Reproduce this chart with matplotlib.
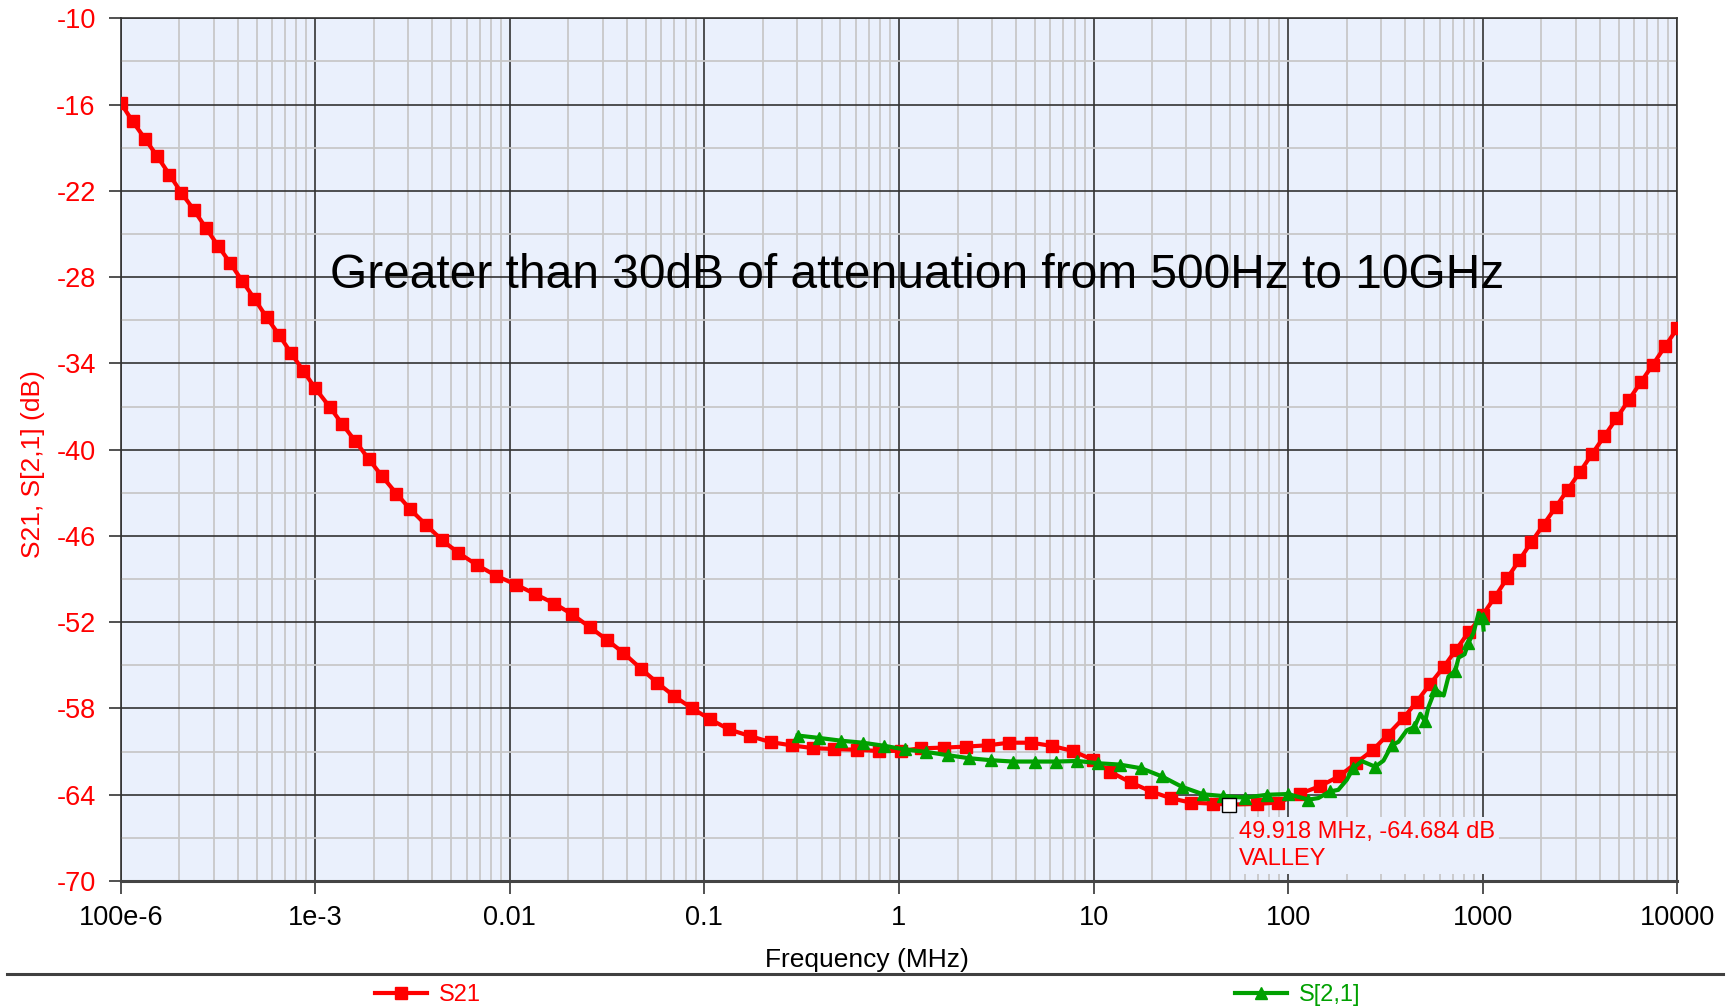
import matplotlib
matplotlib.use("Agg")
import matplotlib.pyplot as plt
from matplotlib.lines import Line2D

plt.rcParams['font.family'] = ['Liberation Sans', 'DejaVu Sans']
plt.rcParams['axes.unicode_minus'] = False

# S21 sweep (frequency in MHz, attenuation in dB)
s21_freq = [
    1.00e-4, 1.15e-4, 1.33e-4, 1.54e-4, 1.78e-4, 2.05e-4, 2.37e-4, 2.74e-4,
    3.16e-4, 3.65e-4, 4.22e-4, 4.87e-4, 5.62e-4, 6.49e-4, 7.50e-4, 8.66e-4,
    1.00e-3, 1.185e-3, 1.372e-3, 1.606e-3, 1.880e-3, 2.204e-3, 2.611e-3,
    3.083e-3, 3.695e-3, 4.488e-3, 5.445e-3, 6.740e-3, 8.472e-3, 1.072e-2,
    1.343e-2, 1.692e-2, 2.095e-2, 2.580e-2, 3.172e-2, 3.833e-2, 4.707e-2,
    5.735e-2, 6.982e-2, 8.612e-2, 0.1072, 0.1340, 0.1717, 0.2189, 0.2824,
    0.3622, 0.4650, 0.6072, 0.7929, 1.022, 1.299, 1.713, 2.215, 2.864, 3.674,
    4.785, 6.137, 7.845, 9.94, 12.2, 15.5, 19.8, 25.1, 31.7, 41.2, 49.918,
    68.8, 89.1, 115, 146, 183, 223, 274, 325, 392, 458, 537, 629, 728, 846,
    1000, 1155, 1334, 1540, 1778, 2054, 2371, 2738, 3162, 3652, 4217, 4870,
    5623, 6494, 7499, 8660, 10000,
]
s21_db = [
    -15.88, -17.16, -18.36, -19.59, -20.87, -22.14, -23.30, -24.58,
    -25.81, -27.01, -28.29, -29.51, -30.79, -31.99, -33.27, -34.50,
    -35.74, -37.02, -38.20, -39.41, -40.64, -41.85, -43.05,
    -44.16, -45.21, -46.30, -47.18, -48.00, -48.76, -49.38,
    -50.03, -50.70, -51.46, -52.35, -53.25, -54.13, -55.22,
    -56.22, -57.14, -57.98, -58.76, -59.46, -59.92, -60.34, -60.57,
    -60.76, -60.82, -60.87, -60.96, -60.94, -60.77, -60.72, -60.65, -60.56, -60.38,
    -60.38, -60.61, -60.96, -61.58, -62.41, -63.14, -63.78, -64.25, -64.55, -64.62, -64.684,
    -64.64, -64.54, -63.93, -63.40, -62.71, -61.80, -60.86, -59.82, -58.66, -57.52, -56.29, -55.13, -53.93, -52.70,
    -51.49, -50.25, -48.95, -47.70, -46.43, -45.22, -44.00, -42.77, -41.54, -40.29, -39.06, -37.83,
    -36.56, -35.31, -34.08, -32.81, -31.56,
]

# S[2,1] measured trace
s2_1_freq = [
    0.301, 0.389, 0.504, 0.651, 0.835, 1.07, 1.38, 1.78, 2.30, 2.98, 3.85,
    4.98, 6.44, 8.25, 10.6, 13.6, 17.6, 22.5, 28.5, 36.6, 46.4, 59.9, 78.2,
    100, 127, 143, 164, 181, 200, 216, 239, 280, 309, 341, 369, 407, 446,
    478, 506, 526, 570, 630, 667, 723, 752, 807, 845, 897, 953, 998, 1010,
]
s2_1_db = [
    -59.88, -60.05, -60.24, -60.38, -60.59, -60.85, -61.02, -61.25, -61.46, -61.60, -61.69,
    -61.69, -61.69, -61.65, -61.81, -61.90, -62.16, -62.73, -63.45, -63.97, -64.09, -64.20, -64.00,
    -63.95, -64.34, -64.23, -63.77, -63.66, -62.97, -62.16, -61.66, -62.05, -61.63, -60.55, -60.32, -59.52, -59.29,
    -58.37, -58.90, -57.91, -56.69, -57.10, -55.77, -55.38, -54.46, -54.23, -53.43, -52.74, -51.36, -51.70, -52.51,
]
s2_1_marks = list(range(25)) + [26, 29, 31, 33, 36, 38, 40, 43, 46, 49]

valley_freq = 49.918
valley_db = -64.684

x_ticks = [1e-4, 1e-3, 1e-2, 1e-1, 1, 10, 100, 1000, 10000]
x_tick_labels = ['100e-6', '1e-3', '0.01', '0.1', '1', '10', '100', '1000', '10000']
y_ticks = [-10, -16, -22, -28, -34, -40, -46, -52, -58, -64, -70]
y_minor = [-13, -19, -25, -31, -37, -43, -49, -55, -61, -67]

RED = '#ff0000'
GREEN = '#00a000'
BG = '#eaf0fc'

fig = plt.figure(figsize=(17.32, 10.07), dpi=100)
ax = fig.add_axes([0.0697, 0.1251, 0.8987, 0.8567])
ax.set_facecolor(BG)

ax.plot(s21_freq, s21_db, color=RED, lw=3, marker='s', ms=8.5, zorder=3)
ax.plot(s2_1_freq, s2_1_db, color=GREEN, lw=3, marker='^', ms=8.5,
        markevery=s2_1_marks, zorder=4)
ax.plot([valley_freq], [valley_db], marker='s', ms=10.5, mfc='white', mec='black',
        mew=1.0, ls='none', zorder=5)

ax.set_xscale('log')
ax.set_xlim(1e-4, 1e4)
ax.set_ylim(-70, -10)
ax.set_xticks(x_ticks)
ax.set_xticklabels(x_tick_labels)
ax.set_yticks(y_ticks)
ax.set_yticks(y_minor, minor=True)

ax.set_axisbelow(True)
ax.grid(which='minor', color='#c8c8c8', lw=1.3)
ax.grid(which='major', color='#333333', lw=1.2)
for side in ['left', 'right', 'top']:
    ax.spines[side].set_color('#333333')
    ax.spines[side].set_linewidth(1.2)
ax.spines['bottom'].set_color('#444444')
ax.spines['bottom'].set_linewidth(2.2)

ax.tick_params(which='major', direction='out', length=9, width=1.2, color='#333333',
               labelsize=19.5)
ax.tick_params(which='minor', length=0)
ax.tick_params(axis='y', labelcolor=RED, pad=9)
ax.tick_params(axis='x', pad=8)

fig.text(0.5006, 0.0467, 'Frequency (MHz)', ha='center', va='center', fontsize=19)
fig.text(0.019, 0.539, 'S21, S[2,1] (dB)', ha='center', va='center', rotation=90,
         fontsize=19, color=RED)

ax.text(1.195e-3, -28.75, 'Greater than 30dB of attenuation from 500Hz to 10GHz',
        ha='left', va='baseline', fontsize=34.5, color='black', zorder=6)

ax.text(55.6, -65.85, f'{valley_freq:.3f} MHz, {valley_db:.3f} dB\nVALLEY',
        ha='left', va='top', fontsize=17, color=RED, linespacing=1.25, zorder=6,
        bbox=dict(facecolor=BG, edgecolor='none', pad=3))

# legend strip under the plot
fig.add_artist(Line2D([0.004, 0.995], [0.0328, 0.0328], transform=fig.transFigure,
                      color='#404040', lw=2.2))
h21 = Line2D([], [], color=RED, lw=3, marker='s', ms=8.5)
h2_1 = Line2D([], [], color=GREEN, lw=3, marker='^', ms=8.5)
fig.legend(handles=[h21], labels=['S21'], loc='center left',
           bbox_to_anchor=(0.2165, 0.0118), frameon=False, fontsize=17,
           handlelength=2.2, handletextpad=0.5, borderpad=0, borderaxespad=0,
           numpoints=1, labelcolor=RED)
fig.legend(handles=[h2_1], labels=['S[2,1]'], loc='center left',
           bbox_to_anchor=(0.713, 0.0118), frameon=False, fontsize=17,
           handlelength=2.2, handletextpad=0.5, borderpad=0, borderaxespad=0,
           numpoints=1, labelcolor=GREEN)

fig.savefig('out.png', dpi=100)
